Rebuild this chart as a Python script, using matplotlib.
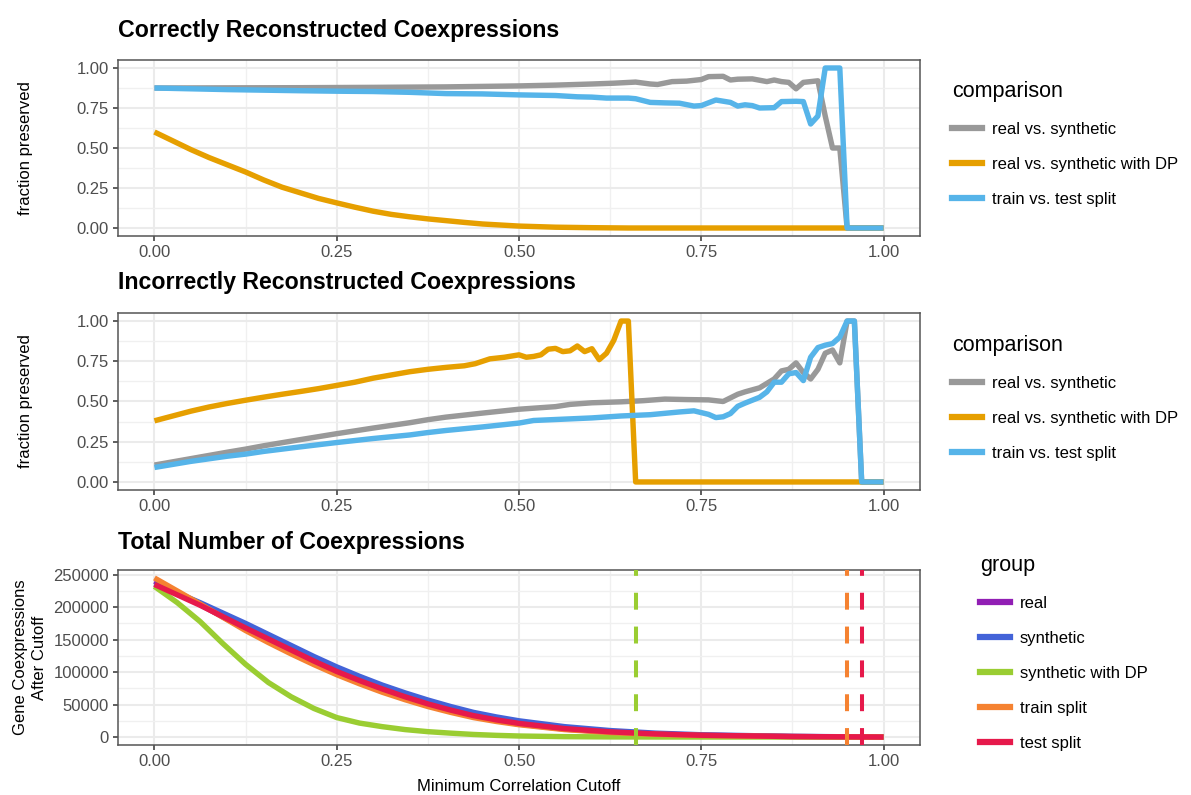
import numpy as np
import matplotlib
matplotlib.use("Agg")
import matplotlib.pyplot as plt
from matplotlib.lines import Line2D
from matplotlib.ticker import MultipleLocator

plt.rcParams['font.family'] = ['Liberation Sans', 'DejaVu Sans']

# ---- fraction preserved, correctly reconstructed coexpressions ----
cor_real_syn_x = [0.00, 0.10, 0.20, 0.30, 0.40, 0.45, 0.50, 0.55, 0.60, 0.63, 0.66, 0.68, 0.69,
                  0.71, 0.73, 0.75, 0.76, 0.78, 0.79, 0.80, 0.82, 0.84, 0.85, 0.86, 0.87, 0.88,
                  0.89, 0.90, 0.91, 0.92, 0.93, 0.94, 0.95, 1.00]
cor_real_syn_y = [0.875, 0.876, 0.877, 0.879, 0.882, 0.885, 0.888, 0.893, 0.900, 0.905, 0.912, 0.900, 0.897,
                  0.915, 0.918, 0.928, 0.946, 0.948, 0.925, 0.930, 0.932, 0.915, 0.925, 0.915, 0.910, 0.870,
                  0.910, 0.915, 0.920, 0.700, 0.500, 0.500, 0.000, 0.000]

cor_real_dp_x = [0.000, 0.025, 0.050, 0.075, 0.100, 0.125, 0.150, 0.175, 0.200, 0.225, 0.250, 0.275,
                 0.300, 0.325, 0.350, 0.375, 0.400, 0.425, 0.450, 0.500, 0.550, 0.600, 0.650, 1.000]
cor_real_dp_y = [0.600, 0.545, 0.490, 0.440, 0.395, 0.350, 0.300, 0.255, 0.220, 0.185, 0.157, 0.130,
                 0.105, 0.085, 0.070, 0.057, 0.046, 0.035, 0.025, 0.012, 0.005, 0.002, 0.000, 0.000]

cor_split_x = [0.00, 0.10, 0.20, 0.25, 0.30, 0.35, 0.40, 0.45, 0.50, 0.55, 0.58, 0.60, 0.62, 0.65,
               0.66, 0.68, 0.70, 0.72, 0.74, 0.75, 0.77, 0.79, 0.80, 0.81, 0.82, 0.83, 0.85, 0.86,
               0.88, 0.89, 0.90, 0.91, 0.92, 0.94, 0.95, 1.00]
cor_split_y = [0.875, 0.865, 0.858, 0.855, 0.853, 0.848, 0.840, 0.838, 0.832, 0.828, 0.820, 0.818, 0.812, 0.812,
               0.808, 0.785, 0.782, 0.780, 0.762, 0.765, 0.800, 0.785, 0.762, 0.770, 0.765, 0.750, 0.752, 0.790,
               0.792, 0.790, 0.650, 0.700, 1.000, 1.000, 0.000, 0.000]

# ---- fraction preserved, incorrectly reconstructed coexpressions ----
inc_real_syn_x = [0.00, 0.05, 0.10, 0.125, 0.15, 0.20, 0.25, 0.30, 0.35, 0.375, 0.40, 0.45, 0.50, 0.55,
                  0.57, 0.60, 0.64, 0.67, 0.70, 0.73, 0.76, 0.78, 0.80, 0.81, 0.83, 0.85, 0.86, 0.87,
                  0.88, 0.89, 0.90, 0.91, 0.92, 0.93, 0.94, 0.95, 0.96, 0.97, 1.00]
inc_real_syn_y = [0.105, 0.145, 0.185, 0.204, 0.225, 0.263, 0.300, 0.335, 0.368, 0.387, 0.403, 0.428, 0.452, 0.468,
                  0.482, 0.492, 0.498, 0.505, 0.515, 0.512, 0.510, 0.500, 0.545, 0.560, 0.585, 0.640, 0.690, 0.700,
                  0.740, 0.680, 0.640, 0.700, 0.800, 0.820, 0.740, 1.000, 1.000, 0.000, 0.000]

inc_real_dp_x = [0.00, 0.025, 0.05, 0.075, 0.10, 0.125, 0.15, 0.175, 0.20, 0.225, 0.25, 0.275, 0.30,
                 0.325, 0.35, 0.375, 0.40, 0.425, 0.44, 0.46, 0.48, 0.50, 0.51, 0.52, 0.53, 0.54, 0.55,
                 0.56, 0.57, 0.58, 0.59, 0.60, 0.61, 0.62, 0.63, 0.64, 0.65, 0.66, 1.00]
inc_real_dp_y = [0.380, 0.410, 0.440, 0.466, 0.488, 0.508, 0.527, 0.545, 0.562, 0.580, 0.600, 0.620, 0.645,
                 0.665, 0.685, 0.700, 0.712, 0.722, 0.735, 0.765, 0.775, 0.790, 0.775, 0.780, 0.790, 0.825, 0.830,
                 0.810, 0.815, 0.845, 0.810, 0.828, 0.760, 0.800, 0.880, 1.000, 1.000, 0.000, 0.000]

inc_split_x = [0.00, 0.05, 0.10, 0.125, 0.15, 0.20, 0.25, 0.30, 0.35, 0.375, 0.40, 0.45, 0.50, 0.52,
               0.55, 0.60, 0.64, 0.68, 0.72, 0.74, 0.76, 0.77, 0.78, 0.79, 0.80, 0.81, 0.83, 0.84,
               0.85, 0.86, 0.87, 0.88, 0.89, 0.90, 0.91, 0.92, 0.93, 0.94, 0.95, 0.96, 0.97, 1.00]
inc_split_y = [0.090, 0.128, 0.160, 0.173, 0.190, 0.218, 0.245, 0.270, 0.292, 0.307, 0.320, 0.342, 0.366, 0.382,
               0.388, 0.398, 0.410, 0.418, 0.435, 0.442, 0.420, 0.400, 0.405, 0.425, 0.470, 0.490, 0.526, 0.560,
               0.620, 0.620, 0.672, 0.680, 0.630, 0.775, 0.835, 0.850, 0.860, 0.900, 1.000, 1.000, 0.000, 0.000]

comparisons = ['real vs. synthetic', 'real vs. synthetic with DP', 'train vs. test split']
comparison_colors = ['#999999', '#E69F00', '#56B4E9']

# ---- total number of coexpressions above each cutoff ----
cutoff = [0.0, 0.03125, 0.0625, 0.09375, 0.125, 0.15625, 0.1875, 0.21875, 0.25, 0.28125, 0.3125,
          0.34375, 0.375, 0.40625, 0.4375, 0.46875, 0.5, 0.5625, 0.625, 0.6875, 0.75, 0.875, 1.0]
n_real = [240000, 222000, 204000, 185000, 166000, 148000, 131000, 114500, 98500, 84500, 71500,
          60000, 49000, 40000, 31500, 25500, 20000, 12200, 7500, 4500, 2600, 750, 0]
n_synthetic = [236000, 222000, 207000, 191000, 175000, 158000, 141000, 124000, 108000, 93500, 80000,
               68000, 57000, 47000, 38000, 31000, 25000, 16000, 10000, 6000, 3500, 1000, 0]
n_synthetic_dp = [232000, 207000, 178000, 144000, 112000, 84000, 62000, 44000, 30000, 21500, 16000,
                  11500, 8300, 6000, 4000, 2600, 1600, 600, 200, 50, 0, 0, 0]
n_train = [245000, 225000, 205000, 184500, 164000, 145500, 128000, 111500, 96000, 82000, 69000,
           57500, 47000, 38000, 30000, 24000, 19000, 11500, 7000, 4200, 2400, 700, 0]
n_test = [235000, 219000, 203000, 185500, 168000, 151000, 134000, 117000, 101000, 87000, 74000,
          62000, 51000, 41500, 33000, 26500, 21000, 13000, 8000, 4800, 2800, 800, 0]

groups = ['real', 'synthetic', 'synthetic with DP', 'train split', 'test split']
group_colors = ['#911EB4', '#4363D8', '#9ACD32', '#F58231', '#E6194B']
group_counts = [n_real, n_synthetic, n_synthetic_dp, n_train, n_test]

# cutoff where the fraction preserved drops to zero
drop_groups = ['synthetic with DP', 'train split', 'test split']
drop_cutoff = [0.66, 0.95, 0.97]

W, H = 1191, 795
fig = plt.figure(figsize=(W / 100, H / 100), dpi=100)


def add_panel(left, top, right, bottom):
    return fig.add_axes([left / W, 1 - bottom / H, (right - left) / W, (bottom - top) / H])


def style_panel(ax):
    ax.set_xlim(-0.05, 1.05)
    ax.xaxis.set_major_locator(MultipleLocator(0.25))
    ax.xaxis.set_minor_locator(MultipleLocator(0.125))
    ax.xaxis.set_major_formatter(lambda v, p: f'{v:.2f}')
    ax.grid(which='major', color='#EBEBEB', lw=1.5, zorder=0)
    ax.grid(which='minor', color='#F0F0F0', lw=1.0, zorder=0)
    ax.set_axisbelow(True)
    for s in ax.spines.values():
        s.set_color('#555555')
        s.set_linewidth(1.1)
    ax.tick_params(which='major', length=3.5, width=1.1, color='#333333',
                   labelsize=12, labelcolor='#4D4D4D', pad=3)
    ax.tick_params(which='minor', length=0)


def add_legend(ax, colors, labels, title, left_px, top_px):
    handles = [Line2D([], [], color=c, lw=4.5) for c in colors]
    ax.legend(handles, labels, title=title, loc='upper left',
              bbox_to_anchor=(left_px / W, 1 - top_px / H), bbox_transform=fig.transFigure,
              frameon=False, fontsize=12, title_fontsize=15.5, alignment='left',
              handlelength=1.8, handletextpad=0.6, labelspacing=1.2, borderpad=0,
              borderaxespad=0)


lw = 3.9
ax1 = add_panel(118, 60, 920, 236)
ax2 = add_panel(118, 313, 920, 490)
ax3 = add_panel(118, 570, 920, 745)

series1 = [(cor_real_syn_x, cor_real_syn_y), (cor_real_dp_x, cor_real_dp_y), (cor_split_x, cor_split_y)]
series2 = [(inc_real_syn_x, inc_real_syn_y), (inc_real_dp_x, inc_real_dp_y), (inc_split_x, inc_split_y)]

for ax, series, legend_top in [(ax1, series1, 81), (ax2, series2, 335)]:
    for (x, y), name, c in zip(series, comparisons, comparison_colors):
        ax.plot(x, y, color=c, lw=lw, label=name, solid_capstyle='butt', solid_joinstyle='round')
    style_panel(ax)
    ax.set_ylim(-0.05, 1.05)
    ax.yaxis.set_major_locator(MultipleLocator(0.25))
    ax.yaxis.set_minor_locator(MultipleLocator(0.125))
    ax.yaxis.set_major_formatter(lambda v, p: f'{v:.2f}')
    ax.set_ylabel('fraction preserved', fontsize=12)
    ax.yaxis.set_label_coords((33 - 118) / 802, 0.5)
    add_legend(ax, comparison_colors, comparisons, 'comparison', 952, legend_top)

for name, c, counts in zip(groups, group_colors, group_counts):
    ax3.plot(cutoff, counts, color=c, lw=lw, label=name, solid_capstyle='butt', solid_joinstyle='round')
for name, xv in zip(drop_groups, drop_cutoff):
    ax3.axvline(xv, color=group_colors[groups.index(name)], lw=2.9, ls=(0, (4.2, 4.2)), zorder=5)

style_panel(ax3)
ymax = max(max(c) for c in group_counts)
ax3.set_ylim(-0.05 * ymax, 1.05 * ymax)
ax3.yaxis.set_major_locator(MultipleLocator(50000))
ax3.yaxis.set_minor_locator(MultipleLocator(25000))
ax3.yaxis.set_major_formatter(lambda v, p: f'{v:.0f}')
ax3.set_ylabel('Gene Coexpressions\nAfter Cutoff', fontsize=12, linespacing=1.35)
ax3.yaxis.set_label_coords((47 - 118) / 802, 0.5)
ax3.set_xlabel('Minimum Correlation Cutoff', fontsize=12)
ax3.xaxis.set_label_coords(0.5, (745 - 779) / 175)
add_legend(ax3, group_colors, groups, 'group', 980, 555)

titles = ['Correctly Reconstructed Coexpressions', 'Incorrectly Reconstructed Coexpressions',
          'Total Number of Coexpressions']
for t, ypx in zip(titles, [30, 283, 543]):
    fig.text(118 / W, 1 - ypx / H, t, fontsize=16.7, fontweight='bold', va='center', ha='left')

fig.savefig('out.png', dpi=100)
